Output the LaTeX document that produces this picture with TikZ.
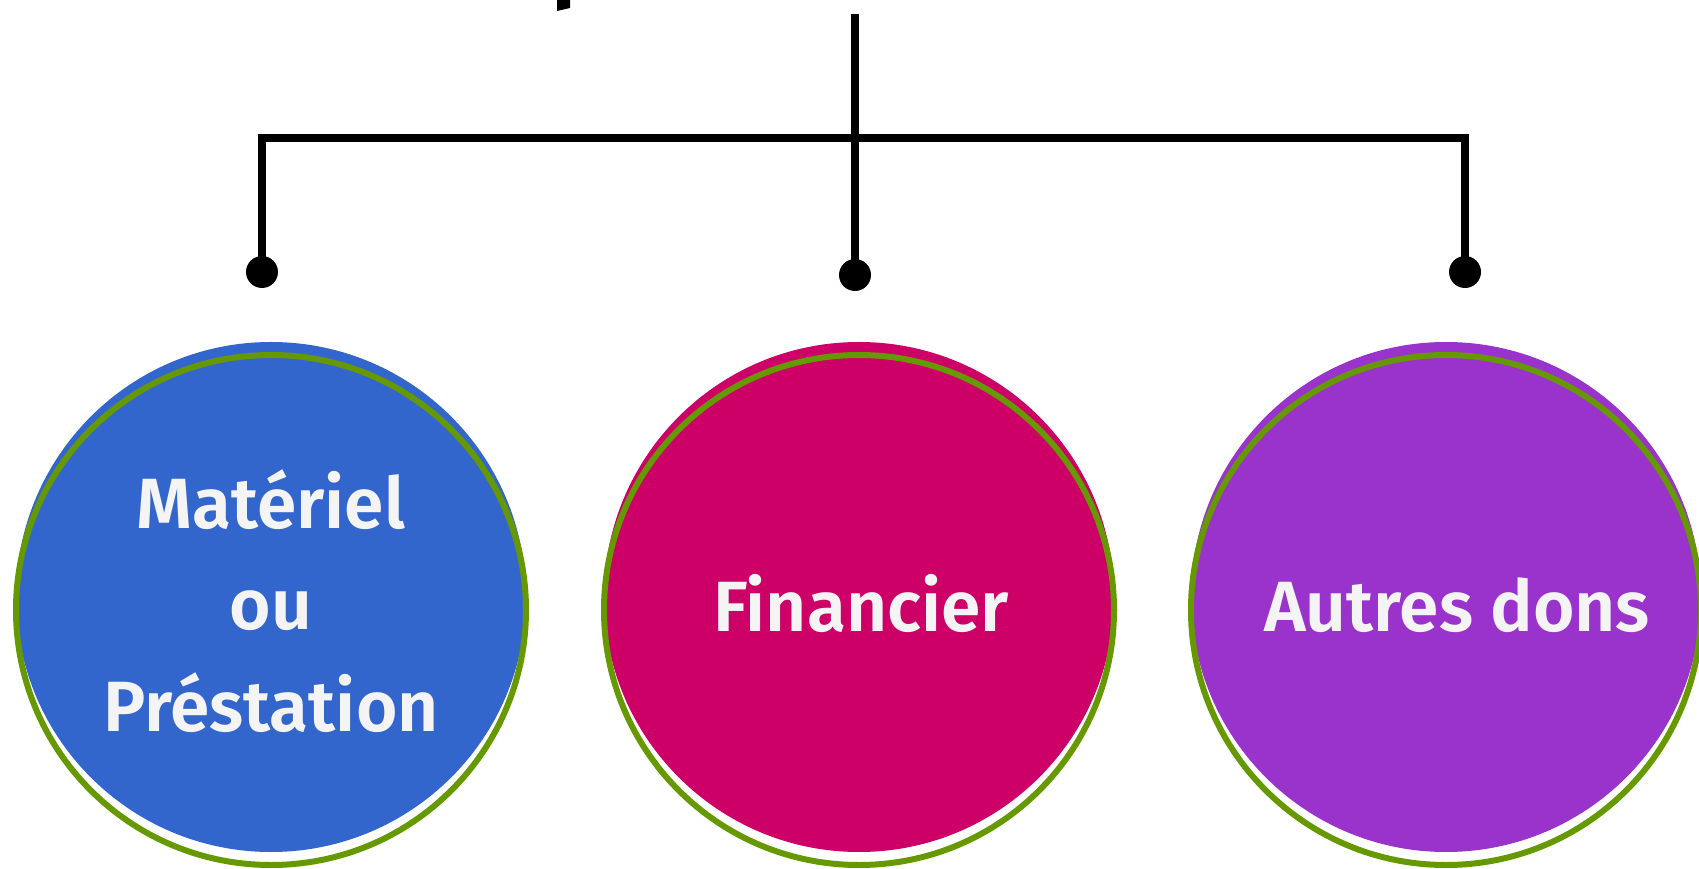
\documentclass[tikz,border=0pt]{standalone}
\usepackage{fontspec}
\setmainfont{Fira Sans}[BoldFont={Fira Sans SemiBold}]
\definecolor{donblue}{HTML}{3366CC}
\definecolor{donpink}{HTML}{CC0066}
\definecolor{donviolet}{HTML}{9933CC}
\definecolor{dongreen}{HTML}{669900}
\definecolor{dontext}{HTML}{F4F4F4}
\begin{document}
\begin{tikzpicture}[scale=0.2]
\tikzstyle{every node}+=[inner sep=0pt]
\tikzstyle{dotnode}=[circle,fill=black,minimum size=18.2pt]
\tikzstyle{branch}=[black,line width=4.3pt]
\tikzstyle{ring}=[dongreen,line width=3.41pt]
\tikzstyle{circletext}=[text=dontext,font=\bfseries\fontsize{40.5}{57.5}\selectfont,align=center]
\useasboundingbox (0,0) rectangle (169.9,-86.9);
% the three circles
\fill [donblue] (27.1,-59.7) circle (25.5);
\draw [ring] (27.1,-61.0) circle (25.5);
\fill [donpink] (85.9,-59.7) circle (25.5);
\draw [ring] (85.9,-61.0) circle (25.5);
\fill [donviolet] (144.6,-59.7) circle (25.5);
\draw [ring] (144.6,-61.0) circle (25.5);
\node [circletext,anchor=base] (materiel) at (27.1,-73.1) {Matériel\\ou\\Préstation};
\node [circletext,anchor=base] (financier) at (86.1,-63.2) {Financier};
\node [circletext,anchor=base] (autres) at (145.7,-63.2) {Autres dons};
% the tree
\node [dotnode] (d1) at (26.2,-27.2) {};
\node [dotnode] (d2) at (85.5,-27.5) {};
\node [dotnode] (d3) at (146.5,-27.2) {};
\coordinate (top) at (85.5,-1.4);
\coordinate (cl) at (26.2,-13.8);
\coordinate (cr) at (146.5,-13.8);
\draw [branch] (top) -- (d2.center);
\draw [branch] (d1.center) -- (cl) -- (cr) -- (d3.center);
\fill [black] (55.7,0) -- (57.0,0) -- (57.0,-0.8) -- (55.7,-1.1) -- cycle;
\end{tikzpicture}
\end{document}
